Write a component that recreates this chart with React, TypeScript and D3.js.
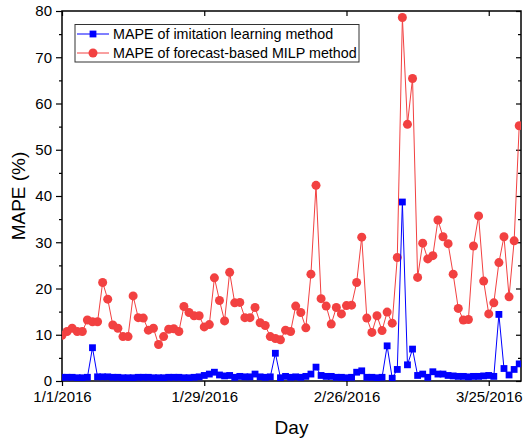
import React, { useEffect, useRef } from 'react';
import * as d3 from 'd3';

// daily MAPE values from 1/1/2016 to 3/31/2016
const startDay = new Date(2016, 0, 1);
const xTickLabels = ['1/1/2016', '1/29/2016', '2/26/2016', '3/25/2016'];
const yTicks = [0, 10, 20, 30, 40, 50, 60, 70, 80];

const imitationMape = [
  0.8, 0.8, 0.8, 0.7, 0.7, 0.8, 7.2, 0.9, 0.9, 0.9,
  0.8, 0.8, 0.7, 0.7, 0.7, 0.8, 0.8, 0.8, 0.7, 0.7,
  0.7, 0.8, 0.8, 0.8, 0.7, 0.7, 0.8, 0.9, 1.2, 1.5,
  1.9, 1.3, 1.1, 1.2, 0.8, 1.0, 0.9, 0.9, 1.5, 0.9,
  0.8, 0.9, 6.0, 0.7, 1.0, 0.8, 0.9, 0.8, 1.0, 1.5,
  3.0, 1.2, 1.0, 1.0, 0.8, 0.8, 0.7, 0.8, 1.9, 2.2,
  0.8, 0.8, 0.7, 0.8, 7.6, 0.6, 2.5, 38.7, 3.5, 6.9,
  1.2, 1.5, 0.8, 2.0, 1.5, 1.5, 1.2, 1.1, 1.0, 1.0,
  0.9, 1.0, 1.0, 1.1, 1.2, 1.0, 14.4, 2.7, 1.3, 2.5,
  3.7,
];

const milpMape = [
  9.9, 10.7, 11.4, 10.7, 10.7, 13.2, 12.8, 12.8, 21.3, 17.7,
  12.1, 11.4, 9.6, 9.6, 18.4, 13.7, 13.6, 11.0, 11.4, 7.9,
  9.6, 11.2, 11.3, 10.7, 16.1, 14.8, 14.1, 14.1, 11.7, 12.2,
  22.3, 17.4, 13.0, 23.5, 16.9, 17.0, 13.7, 13.7, 15.9, 12.6,
  12.0, 9.6, 9.2, 8.9, 11.0, 10.7, 16.2, 14.8, 11.5, 23.1,
  42.3, 17.8, 16.2, 12.3, 15.9, 14.5, 16.3, 16.4, 21.3, 31.1,
  13.6, 10.5, 14.1, 10.9, 14.9, 12.5, 26.7, 78.6, 55.5, 65.4,
  22.4, 29.8, 26.4, 27.1, 34.8, 31.2, 29.7, 23.1, 15.7, 13.2,
  13.3, 29.2, 35.7, 21.6, 14.5, 16.9, 25.6, 31.2, 18.2, 30.3,
  55.2,
];

const seriesNames = [
  'MAPE of imitation learning method',
  'MAPE of forecast-based MILP method',
];

const BLUE = '#0000ff';
const RED = '#f24141';
const FONT = 'Arial, "Liberation Sans", sans-serif';

const App = () => {
  const svgRef = useRef<SVGSVGElement>(null);

  useEffect(() => {
    const svg = d3.select(svgRef.current);
    svg.selectAll('*').remove();

    const left = 62, right = 521, top = 11, bottom = 381;

    const x = d3
      .scaleTime()
      .domain([startDay, new Date(startDay.getTime() + 90.35 * 864e5)])
      .range([left, right]);
    const y = d3.scaleLinear().domain([0, 80]).range([bottom, top]);

    const parse = d3.timeParse('%m/%d/%Y');
    const xTicks = xTickLabels.map(s => parse(s) as Date);
    const fmt = (d: Date) => `${d.getMonth() + 1}/${d.getDate()}/${d.getFullYear()}`;

    const dateOf = (i: number) => d3.timeDay.offset(startDay, i);

    svg.append('defs').append('clipPath').attr('id', 'plotclip')
      .append('rect')
      .attr('x', left).attr('y', top)
      .attr('width', right - left).attr('height', bottom - top);

    // axes
    const bottomAxis = d3.axisBottom(x).tickValues(xTicks).tickFormat(d => fmt(d as Date)).tickSize(5).tickPadding(5);
    const topAxis = d3.axisTop(x).tickValues(xTicks).tickFormat(() => '').tickSize(-5);
    const leftMinor = d3.axisLeft(y).tickValues(d3.range(5, 80, 10)).tickFormat(() => '').tickSize(3);
    const leftAxis = d3.axisLeft(y).tickValues(yTicks).tickSize(6).tickPadding(4);
    const rightAxis = d3.axisRight(y).tickValues(yTicks).tickFormat(() => '').tickSize(-5);
    const rightMinor = d3.axisRight(y).tickValues(d3.range(5, 80, 10)).tickFormat(() => '').tickSize(-3);

    const styleAxis = (g: any) => {
      g.selectAll('path').attr('stroke', '#000').attr('stroke-width', 1.5);
      g.selectAll('line').attr('stroke', '#000').attr('stroke-width', 1.2);
      g.selectAll('text').attr('fill', '#000').style('font-family', FONT).style('font-size', '15px');
    };

    svg.append('g').attr('transform', `translate(0,${bottom})`).call(bottomAxis).call(styleAxis);
    svg.append('g').attr('transform', `translate(0,${top})`).call(topAxis).call(styleAxis);
    svg.append('g').attr('transform', `translate(${left},0)`).call(leftMinor).call(styleAxis);
    svg.append('g').attr('transform', `translate(${left},0)`).call(leftAxis).call(styleAxis);
    svg.append('g').attr('transform', `translate(${right},0)`).call(rightAxis).call(styleAxis);
    svg.append('g').attr('transform', `translate(${right},0)`).call(rightMinor).call(styleAxis);
    svg.selectAll('.domain').attr('d', null);
    svg.append('rect')
      .attr('x', left).attr('y', top).attr('width', right - left).attr('height', bottom - top)
      .attr('fill', 'none').attr('stroke', '#000').attr('stroke-width', 1.5);

    // axis titles
    svg.append('text')
      .attr('x', (left + right) / 2).attr('y', 434)
      .attr('text-anchor', 'middle')
      .style('font-family', FONT).style('font-size', '19px')
      .text('Day');
    svg.append('text')
      .attr('transform', `translate(25,${(top + bottom) / 2}) rotate(-90)`)
      .attr('text-anchor', 'middle')
      .style('font-family', FONT).style('font-size', '19px')
      .text('MAPE (%)');

    const plot = svg.append('g').attr('clip-path', 'url(#plotclip)');
    const line = d3.line<number>().x((_, i) => x(dateOf(i))).y(d => y(d));

    // forecast-based MILP
    plot.append('path').datum(milpMape)
      .attr('d', line).attr('fill', 'none').attr('stroke', RED).attr('stroke-width', 1);
    plot.selectAll('.red').data(milpMape).enter().append('circle')
      .attr('cx', (_, i) => x(dateOf(i))).attr('cy', d => y(d))
      .attr('r', 4.5).attr('fill', RED);

    // imitation learning
    plot.append('path').datum(imitationMape)
      .attr('d', line).attr('fill', 'none').attr('stroke', BLUE).attr('stroke-width', 1);
    plot.selectAll('.blue').data(imitationMape).enter().append('rect')
      .attr('x', (_, i) => x(dateOf(i)) - 3.4).attr('y', d => y(d) - 3.4)
      .attr('width', 6.8).attr('height', 6.8).attr('fill', BLUE);

    // legend
    const lg = svg.append('g');
    lg.append('rect')
      .attr('x', 75).attr('y', 24.5).attr('width', 284).attr('height', 37.5)
      .attr('fill', '#fff').attr('stroke', '#333').attr('stroke-width', 1);
    const rows = [
      { name: seriesNames[0], color: BLUE, shape: 'square', yy: 34 },
      { name: seriesNames[1], color: RED, shape: 'circle', yy: 53 },
    ];
    rows.forEach(r => {
      lg.append('line')
        .attr('x1', 77).attr('x2', 109).attr('y1', r.yy).attr('y2', r.yy)
        .attr('stroke', r.color).attr('stroke-width', 1);
      if (r.shape === 'square') {
        lg.append('rect').attr('x', 93 - 3.4).attr('y', r.yy - 3.4)
          .attr('width', 6.8).attr('height', 6.8).attr('fill', r.color);
      } else {
        lg.append('circle').attr('cx', 93).attr('cy', r.yy).attr('r', 4.5).attr('fill', r.color);
      }
      lg.append('text')
        .attr('x', 113).attr('y', r.yy + 5)
        .style('font-family', FONT).style('font-size', '14.3px')
        .text(r.name);
    });
  }, []);

  return (
    <div style={{ position: 'absolute', left: 0, top: 0, background: '#fff' }}>
      <svg ref={svgRef} width={525} height={443} />
    </div>
  );
};

export default App;
